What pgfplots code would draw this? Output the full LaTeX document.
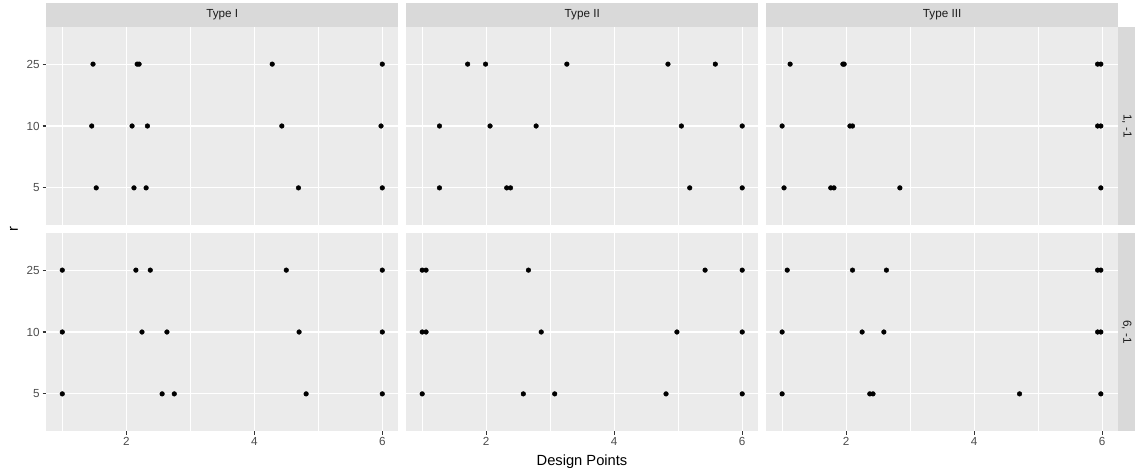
\documentclass[border=0pt]{standalone}
\usepackage{fontspec}
\setmainfont{Liberation Sans}
\usepackage{pgfplots}
\pgfplotsset{compat=1.18}

\definecolor{panelbg}{HTML}{EBEBEB}
\definecolor{stripbg}{HTML}{D9D9D9}
\definecolor{tickcol}{HTML}{333333}
\definecolor{ticktext}{HTML}{4D4D4D}
\definecolor{striptext}{HTML}{1A1A1A}

\newcommand{\smallfont}{\fontsize{11.7}{12}\selectfont}
\newcommand{\titlefont}{\fontsize{14.7}{15}\selectfont}

\pgfplotsset{
  facet/.style={
    scale only axis, width=352pt, height=198pt, anchor=south west,
    xmin=0.75, xmax=6.25, ymin=0.4, ymax=3.6,
    xtick={2,4,6}, xticklabels={2,4,6}, minor xtick={1,3,5},
    ytick={1,2,3}, yticklabels={5,10,25},
    grid=both,
    major grid style={white, line width=1.2pt},
    minor grid style={white, line width=0.6pt},
    axis background/.style={fill=panelbg},
    axis line style={draw=none},
    tick align=outside, tick pos=left,
    major tick length=3.67pt, minor tick length=0pt,
    every tick/.style={tickcol, line width=1.2pt},
    ticklabel style={font=\smallfont, text=ticktext},
    yticklabel style={anchor=east, inner sep=0pt, xshift=-2.9pt},
    xticklabel style={anchor=north, inner sep=0pt, yshift=-2.9pt},
    every axis plot post/.append style={black, only marks, mark=*, mark size=2.35pt,
      mark options={fill=black, draw=black}},
  },
  noxlab/.style={xticklabels={}, xtick style={draw=none}},
  noylab/.style={yticklabels={}, ytick style={draw=none}},
  striptop/.style={extra description/.append code={
    \node[fill=stripbg, minimum width=352pt, minimum height=24pt, inner sep=0pt,
          anchor=south, font=\smallfont, text=striptext] at (rel axis cs:0.5,1) {#1};}},
  stripright/.style={extra description/.append code={
    \node[fill=stripbg, rotate=-90, minimum width=198pt, minimum height=17pt, inner sep=0pt,
          anchor=south, font=\smallfont, text=striptext] at (rel axis cs:1,0.5) {#1};}},
}

\begin{document}
\begin{tikzpicture}
\path[use as bounding box] (0pt,0pt) rectangle (1135pt,475pt);

% ---- row r = 1, -1 ----
\begin{axis}[facet, noxlab, striptop={Type I}, at={(46.3pt,250pt)}]
\addplot coordinates {
 (1.48,3) (2.17,3) (2.20,3) (4.28,3) (6.00,3)
 (1.46,2) (2.09,2) (2.33,2) (4.43,2) (5.98,2)
 (1.53,1) (2.12,1) (2.31,1) (4.69,1) (6.00,1)};
\end{axis}

\begin{axis}[facet, noxlab, noylab, striptop={Type II}, at={(406.2pt,250pt)}]
\addplot coordinates {
 (1.71,3) (1.99,3) (3.26,3) (4.84,3) (5.58,3)
 (1.27,2) (2.06,2) (2.78,2) (5.05,2) (6.00,2)
 (1.27,1) (2.32,1) (2.38,1) (5.18,1) (6.00,1)};
\end{axis}

\begin{axis}[facet, noxlab, noylab, striptop={Type III}, stripright={1, -1}, at={(766.1pt,250pt)}]
\addplot coordinates {
 (1.125,3) (1.95,3) (1.97,3) (5.93,3) (5.98,3)
 (1.00,2) (2.06,2) (2.10,2) (5.93,2) (5.98,2)
 (1.03,1) (1.76,1) (1.81,1) (2.84,1) (5.98,1)};
\end{axis}

% ---- row r = 6, -1 ----
\begin{axis}[facet, at={(46.3pt,44pt)}]
\addplot coordinates {
 (1.00,3) (2.15,3) (2.375,3) (4.50,3) (6.00,3)
 (1.00,2) (2.245,2) (2.635,2) (4.70,2) (6.00,2)
 (1.00,1) (2.56,1) (2.75,1) (4.81,1) (6.00,1)};
\end{axis}

\begin{axis}[facet, noylab, at={(406.2pt,44pt)}]
\addplot coordinates {
 (1.00,3) (1.06,3) (2.66,3) (5.42,3) (6.00,3)
 (1.00,2) (1.06,2) (2.86,2) (4.98,2) (6.00,2)
 (1.00,1) (2.58,1) (3.07,1) (4.81,1) (6.00,1)};
\end{axis}

\begin{axis}[facet, noylab, stripright={6, -1}, at={(766.1pt,44pt)}]
\addplot coordinates {
 (1.08,3) (2.10,3) (2.63,3) (5.93,3) (5.98,3)
 (1.00,2) (2.25,2) (2.59,2) (5.93,2) (5.98,2)
 (1.00,1) (2.37,1) (2.42,1) (4.71,1) (5.98,1)};
\end{axis}

% axis titles
\node[font=\titlefont, anchor=center] at (582pt,13pt) {Design Points};
\node[font=\titlefont, rotate=90, anchor=center] at (14pt,246pt) {r};
\end{tikzpicture}
\end{document}
